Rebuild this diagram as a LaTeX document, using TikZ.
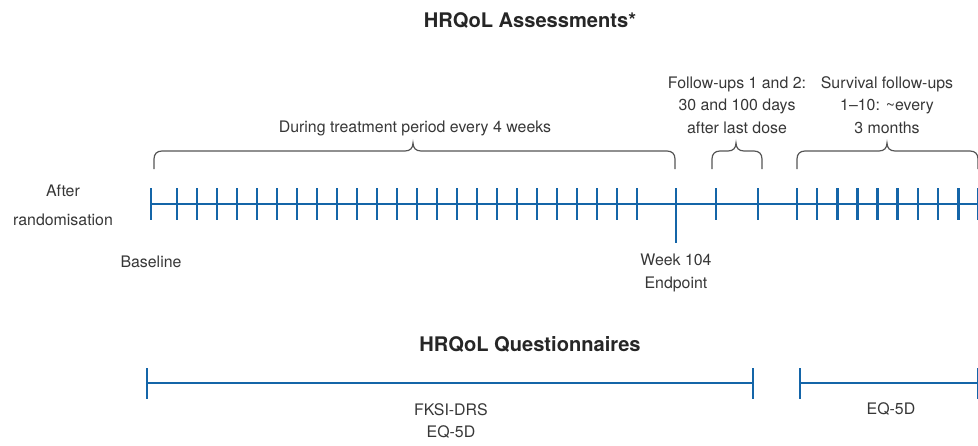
\documentclass[tikz,border=0pt]{standalone}
\usepackage{fontspec}
\setmainfont{TeX Gyre Heros}
\usepackage{xcolor}
\usetikzlibrary{arrows.meta,positioning}
\definecolor{tlblue}{RGB}{20,101,168}
\definecolor{txtgray}{RGB}{55,55,55}
\definecolor{brcgray}{RGB}{85,85,85}

\begin{document}
\begin{tikzpicture}[
  x=0.25mm, y=-0.25mm,
  tl/.style={draw=tlblue,line width=0.6mm},
  tick/.style={draw=tlblue,line width=0.65mm},
  bar/.style={draw=tlblue,line width=0.5mm},
  brc/.style={draw=brcgray,line width=0.3mm},
  lbl/.style={align=center,text=txtgray,font=\fontsize{11.3}{16}\selectfont},
  ttl/.style={text=black!85,font=\fontsize{14.3}{17}\selectfont\bfseries}]
\useasboundingbox (0,0) rectangle (978,445);
\node[ttl] (asmt) at (530,20) {HRQoL Assessments*};
\coordinate (base) at (151,204);
\coordinate (tlend) at (978,204);
\draw[tl] (base) -- (tlend);
\foreach \x in {151,716,758} {
  \draw[tick] (\x,188) -- (\x,220);
}
\foreach \x in {177,197,...,637} {
  \draw[tick] (\x,188) -- (\x,220);
}
\foreach \k in {0,...,9} {
  \draw[tick] ({797+20.15*\k},188) -- ++(0,32);
}
\draw[tick] (676,188) -- (676,243);
\foreach \a/\m/\b in {154/413/675,712/736/762,797/887/978} {
  \draw[brc] (\a,169) -- (\a,159) .. controls (\a,154) and (\a+3,151) .. (\a+8,151)
    -- (\m-8,151) .. controls (\m-3,151) and (\m,148) .. (\m,143)
    .. controls (\m,148) and (\m+3,151) .. (\m+8,151)
    -- (\b-8,151) .. controls (\b-3,151) and (\b,154) .. (\b,159) -- (\b,169);
}
\node[lbl,font=\fontsize{11.3}{20.6}\selectfont] (rand) at (63,205) {After\\randomisation};
\node[lbl] (bsl) at (151,262) {Baseline};
\node[lbl] (wk) at (676,273) {Week 104\\Endpoint};
\node[lbl] (trt) at (415,128) {During treatment period every 4 weeks};
\node[lbl] (fu) at (737,105) {Follow-ups 1 and 2:\\30 and 100 days\\after last dose};
\node[lbl] (surv) at (887,105) {Survival follow-ups\\1--10: \textasciitilde every\\3 months};
% questionnaires
\node[ttl] (qst) at (530,344) {HRQoL Questionnaires};
\coordinate (q1s) at (147,383);
\coordinate (q1e) at (753,383);
\coordinate (q2s) at (800,383);
\coordinate (q2e) at (978,383);
\draw[bar] (q1s) -- (q1e);
\draw[bar] (q2s) -- (q2e);
\foreach \c in {q1s,q1e,q2s,q2e} {
  \draw[bar,line width=0.65mm] (\c) ++(0,-15) -- ++(0,31);
}
\node[lbl,font=\fontsize{11.3}{15}\selectfont] (fk) at (451,421) {FKSI-DRS\\EQ-5D};
\node[lbl] (eq) at (891,409) {EQ-5D};
\end{tikzpicture}
\end{document}
